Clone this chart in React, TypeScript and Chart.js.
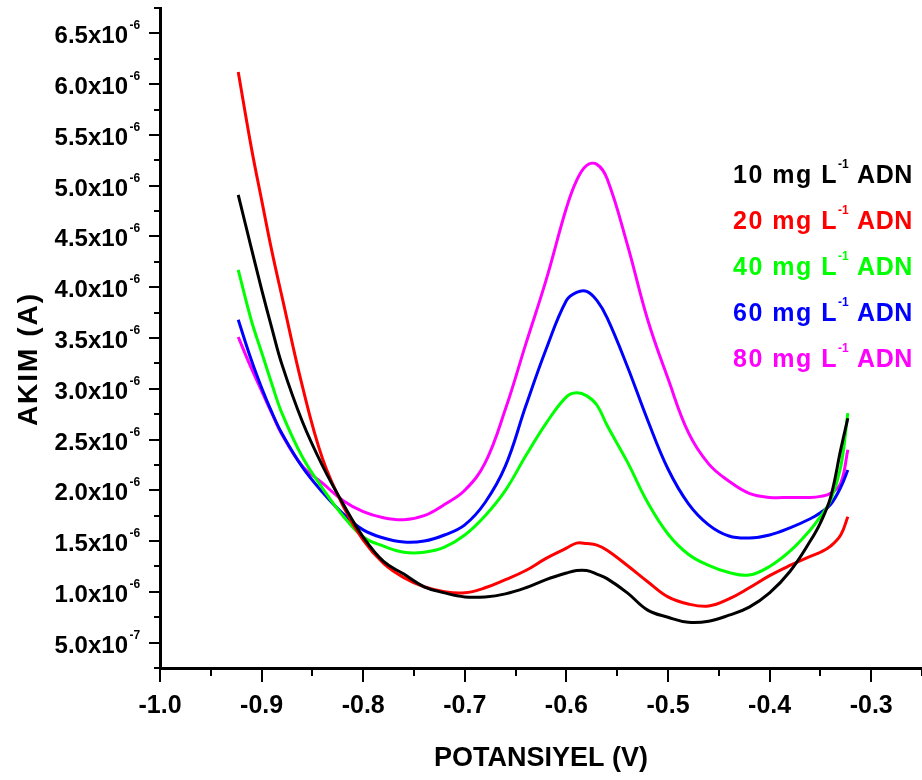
import React, { useEffect, useRef } from 'react';
import { Chart, registerables } from 'chart.js';

Chart.register(...registerables);

// ---- data (current in units of 1e-6 A) ----
const VOLTAGE = [-0.923, -0.91, -0.90, -0.89, -0.88, -0.86, -0.84, -0.82, -0.80, -0.78, -0.76, -0.74, -0.72, -0.70, -0.68, -0.66, -0.64, -0.62, -0.60, -0.59, -0.58, -0.57, -0.56, -0.54, -0.52, -0.50, -0.48, -0.46, -0.44, -0.42, -0.40, -0.38, -0.36, -0.35, -0.34, -0.33, -0.323];

const ADN_10 = [4.91, 4.38, 3.98, 3.60, 3.24, 2.68, 2.24, 1.87, 1.54, 1.30, 1.175, 1.05, 0.99, 0.95, 0.95, 0.98, 1.04, 1.12, 1.185, 1.21, 1.21, 1.175, 1.13, 0.99, 0.82, 0.75, 0.70, 0.71, 0.77, 0.85, 0.99, 1.20, 1.50, 1.68, 1.93, 2.40, 2.71];
const ADN_20 = [6.12, 5.37, 4.86, 4.36, 3.91, 3.03, 2.31, 1.85, 1.51, 1.28, 1.14, 1.05, 1.00, 0.99, 1.04, 1.12, 1.21, 1.33, 1.43, 1.48, 1.475, 1.46, 1.41, 1.26, 1.10, 0.95, 0.88, 0.86, 0.93, 1.04, 1.16, 1.26, 1.35, 1.39, 1.45, 1.56, 1.74];
const ADN_40 = [4.17, 3.67, 3.36, 3.05, 2.76, 2.33, 2.02, 1.75, 1.54, 1.45, 1.39, 1.39, 1.44, 1.56, 1.75, 2.00, 2.34, 2.66, 2.92, 2.96, 2.93, 2.84, 2.64, 2.28, 1.88, 1.57, 1.37, 1.26, 1.19, 1.165, 1.25, 1.40, 1.61, 1.74, 1.90, 2.23, 2.76];
const ADN_60 = [3.68, 3.28, 3.01, 2.77, 2.56, 2.23, 1.98, 1.77, 1.61, 1.53, 1.49, 1.50, 1.56, 1.66, 1.88, 2.24, 2.83, 3.39, 3.87, 3.95, 3.96, 3.87, 3.70, 3.22, 2.69, 2.21, 1.87, 1.66, 1.55, 1.53, 1.56, 1.63, 1.72, 1.78, 1.86, 2.03, 2.20];
const ADN_80 = [3.51, 3.20, 2.98, 2.76, 2.55, 2.24, 2.07, 1.90, 1.79, 1.73, 1.71, 1.75, 1.86, 2.00, 2.27, 2.80, 3.44, 4.07, 4.78, 5.05, 5.20, 5.21, 5.07, 4.42, 3.68, 3.10, 2.57, 2.26, 2.09, 1.97, 1.93, 1.93, 1.93, 1.94, 1.97, 2.07, 2.40];

const SERIES = [ADN_10, ADN_20, ADN_40, ADN_60, ADN_80];
const CONCENTRATIONS = ['10', '20', '40', '60', '80'];
const COLORS = ['#000000', '#ff0000', '#00ff00', '#0000ff', '#ff00ff'];

const X_TICKS = [-1.0, -0.9, -0.8, -0.7, -0.6, -0.5, -0.4, -0.3];
const X_TICK_LABELS = ['-1.0', '-0.9', '-0.8', '-0.7', '-0.6', '-0.5', '-0.4', '-0.3'];
const Y_TICKS = [0.5, 1.0, 1.5, 2.0, 2.5, 3.0, 3.5, 4.0, 4.5, 5.0, 5.5, 6.0, 6.5];
const Y_TICK_LABELS = ['5.0x10', '1.0x10', '1.5x10', '2.0x10', '2.5x10', '3.0x10', '3.5x10', '4.0x10', '4.5x10', '5.0x10', '5.5x10', '6.0x10', '6.5x10'];
const Y_TICK_EXPONENTS = ['-7', '-6', '-6', '-6', '-6', '-6', '-6', '-6', '-6', '-6', '-6', '-6', '-6'];

const X_TITLE = 'POTANSIYEL (V)';
const Y_TITLE = 'AKIM (A)';

const FONT = '"Liberation Sans", Arial, Helvetica, sans-serif';

const decorations = {
  id: 'decorations',
  afterDraw(chart: any) {
    const ctx: CanvasRenderingContext2D = chart.ctx;
    const xs = chart.scales.x;
    const ys = chart.scales.y;
    const { left, bottom } = chart.chartArea;
    ctx.save();
    ctx.strokeStyle = '#000';
    ctx.lineWidth = 2;
    ctx.lineCap = 'butt';

    // y ticks (major + minor), outward
    const yStep = Y_TICKS[1] - Y_TICKS[0];
    const yMinor: number[] = Y_TICKS.map((t) => t - yStep / 2);
    yMinor.push(Y_TICKS[Y_TICKS.length - 1] + yStep / 2);
    ctx.beginPath();
    Y_TICKS.forEach((t) => {
      const y = Math.round(ys.getPixelForValue(t));
      ctx.moveTo(left, y);
      ctx.lineTo(left - 11, y);
    });
    yMinor.forEach((t) => {
      const y = Math.round(ys.getPixelForValue(t));
      ctx.moveTo(left, y);
      ctx.lineTo(left - 6, y);
    });
    // x ticks
    const xStep = X_TICKS[1] - X_TICKS[0];
    const xMinor = X_TICKS.map((t) => t + xStep / 2);
    X_TICKS.forEach((t) => {
      const x = Math.round(xs.getPixelForValue(t));
      ctx.moveTo(x, bottom);
      ctx.lineTo(x, bottom + 14);
    });
    xMinor.forEach((t) => {
      const x = Math.round(xs.getPixelForValue(t));
      ctx.moveTo(x, bottom);
      ctx.lineTo(x, bottom + 8);
    });
    ctx.stroke();

    ctx.fillStyle = '#000';
    ctx.textBaseline = 'alphabetic';

    // y tick labels with superscript exponent
    Y_TICKS.forEach((t, i) => {
      const y = ys.getPixelForValue(t);
      ctx.font = `bold 24px ${FONT}`;
      ctx.textAlign = 'right';
      ctx.fillText(Y_TICK_LABELS[i], left - 32, y + 10);
      ctx.font = `bold 12px ${FONT}`;
      ctx.textAlign = 'left';
      ctx.fillText(Y_TICK_EXPONENTS[i], left - 30.5, y - 4);
    });

    // x tick labels
    ctx.font = `bold 25px ${FONT}`;
    ctx.textAlign = 'center';
    X_TICKS.forEach((t, i) => {
      const x = xs.getPixelForValue(t);
      ctx.fillText(X_TICK_LABELS[i], x, bottom + 45);
    });

    // axis titles
    ctx.font = `bold 27px ${FONT}`;
    ctx.textAlign = 'center';
    ctx.fillText(X_TITLE, 541, 766);

    ctx.save();
    ctx.translate(37, 359);
    ctx.rotate(-Math.PI / 2);
    ctx.font = `bold 28px ${FONT}`;
    (ctx as any).letterSpacing = '2px';
    ctx.textAlign = 'center';
    ctx.fillText(Y_TITLE, 0, 0);
    ctx.restore();

    // legend
    const lx = 733;
    const ly0 = 183;
    const lstep = 46;
    chart.data.datasets.forEach((ds: any, i: number) => {
      const y = ly0 + i * lstep;
      ctx.fillStyle = ds.borderColor;
      ctx.textAlign = 'left';
      ctx.font = `bold 25px ${FONT}`;
      (ctx as any).letterSpacing = '1.5px';
      const main = `${CONCENTRATIONS[i]} mg L`;
      ctx.fillText(main, lx, y);
      const w1 = ctx.measureText(main).width;
      ctx.font = `bold 12px ${FONT}`;
      (ctx as any).letterSpacing = '0px';
      ctx.fillText('-1', lx + w1, y - 15);
      const w2 = ctx.measureText('-1').width;
      ctx.font = `bold 25px ${FONT}`;
      (ctx as any).letterSpacing = '0.5px';
      ctx.fillText(' ADN', lx + w1 + w2 + 1, y);
    });
    (ctx as any).letterSpacing = '0px';
    ctx.restore();
  },
};

export default function App() {
  const canvasRef = useRef<HTMLCanvasElement | null>(null);

  useEffect(() => {
    const canvas = canvasRef.current;
    if (!canvas) return;
    const datasets = SERIES.map((s, i) => ({
      label: `${CONCENTRATIONS[i]} mg L-1 ADN`,
      data: VOLTAGE.map((v, j) => ({ x: v, y: s[j] })),
      borderColor: COLORS[i],
      backgroundColor: COLORS[i],
      borderWidth: 3,
      pointRadius: 0,
      fill: false,
      tension: 0.4,
    }));
    const chart = new Chart(canvas, {
      type: 'line',
      data: { datasets },
      options: {
        animation: false,
        responsive: false,
        devicePixelRatio: 1,
        layout: { padding: { top: 8, left: 0, right: 0, bottom: 0 } },
        plugins: { legend: { display: false }, tooltip: { enabled: false } },
        scales: {
          x: {
            type: 'linear',
            min: -1.0,
            max: -0.25,
            grid: { display: false },
            border: { display: true, color: '#000', width: 3 },
            ticks: { display: false },
            afterFit: (s: any) => { s.height = 112; },
          },
          y: {
            type: 'linear',
            min: 0.25,
            max: 6.75,
            grid: { display: false },
            border: { display: true, color: '#000', width: 3 },
            ticks: { display: false },
            afterFit: (s: any) => { s.width = 160; },
          },
        },
      },
      plugins: [decorations],
    });
    return () => chart.destroy();
  }, []);

  return (
    <div style={{ position: 'absolute', left: 0, top: 0, width: 922, height: 780, background: '#fff' }}>
      <canvas ref={canvasRef} width={922} height={780} style={{ display: 'block' }} />
    </div>
  );
}
